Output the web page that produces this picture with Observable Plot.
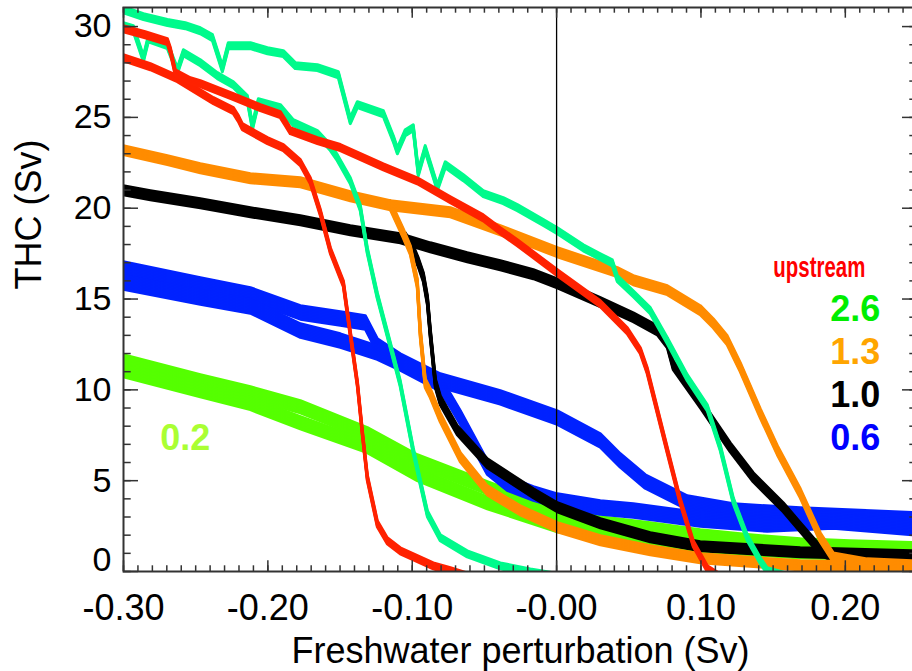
<!DOCTYPE html>
<html>
<head>
<meta charset="utf-8">
<script src="https://cdn.jsdelivr.net/npm/d3@7"></script>
<script src="https://cdn.jsdelivr.net/npm/@observablehq/plot@0.6"></script>
<style>
  html, body { margin: 0; padding: 0; background: white; overflow: hidden; }
  #chart svg { display: block; }
</style>
</head>
<body>
<div id="chart"></div>
<script>
// ---------- axis ticks / labels ----------
const xMajor = [-0.3, -0.2, -0.1, 0, 0.1, 0.2];
const xTickLabels = ["-0.30", "-0.20", "-0.10", "-0.00", "0.10", "0.20"];
const xMinor = d3.range(-30, 26).map(i => i / 100);
const yMajor = [0, 5, 10, 15, 20, 25, 30];
const yTickLabels = ["0", "5", "10", "15", "20", "25", "30"];
const yMinor = d3.range(0, 31);

// ---------- series (freshwater perturbation in Sv, THC in Sv) ----------
// upstream (red), two runs
const fwRedA  = [-0.3002,-0.2850,-0.2696,-0.2675,-0.2641,-0.2537,-0.2468,-0.2239,-0.2052,-0.1914,-0.1879,-0.1845,-0.1657,-0.1498,-0.1200,-0.0965,-0.0736,-0.0508,-0.0390,-0.0272,0.0005,0.0303,0.0490,0.0580,0.0628,0.0767,0.0856,0.0947,0.1044,0.1134];
const thcRedA = [29.88,29.55,29.17,28.67,27.46,27.02,26.86,26.14,25.54,25.15,24.71,24.27,23.72,23.34,22.28,21.51,20.47,19.47,18.76,18.10,16.45,14.74,13.25,12.15,11.05,6.65,3.89,1.53,0.15,-0.3];
const fwRedB  = [-0.3002,-0.2814,-0.2627,-0.2377,-0.2239,-0.2204,-0.2177,-0.2003,-0.1893,-0.1775,-0.1706,-0.1636,-0.1567,-0.1477,-0.1429,-0.1380,-0.1345,-0.1311,-0.1242,-0.1173,-0.1083,-0.0854,-0.0736,-0.0598];
const thcRedB = [28.29,27.79,27.13,25.92,25.37,24.93,24.49,23.72,23.34,22.51,21.51,19.75,17.66,15.84,13.09,10.34,7.59,5.16,2.63,1.69,1.14,0.31,0.04,-0.3];

// 2.6 (spring green)
const fwG26a  = [-0.3002,-0.2862,-0.2696,-0.2572,-0.2468,-0.2384,-0.2315,-0.2274,-0.2121,-0.2003,-0.1893,-0.1810,-0.1657,-0.1512,-0.1429,-0.1380,-0.1200,-0.1131,-0.1103,-0.1048,-0.0993,-0.0958,-0.0910,-0.0826,-0.0771,-0.0646,-0.0508,-0.0370,-0.0272,-0.0092,0.0005,0.0185,0.0303,0.0386,0.0421,0.0531,0.0649,0.0767,0.0905,0.1044,0.1134,0.1224,0.1321,0.1411,0.1459,0.1617];
const thcG26a = [30.93,30.55,30.22,30.05,29.77,29.39,27.68,28.95,28.95,28.67,28.51,27.85,27.74,27.35,24.82,25.70,25.20,23.82,23.16,24.16,24.43,21.95,23.28,21.13,22.39,21.68,20.80,20.42,20.03,19.21,18.76,17.82,17.33,16.99,16.12,15.29,14.36,12.70,10.67,9.01,6.81,3.89,1.86,0.59,0.04,-0.3];
const fwG26b  = [-0.3002,-0.2932,-0.2862,-0.2828,-0.2696,-0.2627,-0.2585,-0.2468,-0.2350,-0.2239,-0.2142,-0.2107,-0.2066,-0.1914,-0.1824,-0.1657,-0.1567,-0.1519,-0.1429,-0.1360,-0.1311,-0.1242,-0.1173,-0.1083,-0.0993,-0.0895,-0.0806,-0.0619,-0.0390,-0.0182,0.0025];
const thcG26b = [30.05,29.88,28.23,29.33,28.95,27.57,28.56,28.01,27.30,26.80,26.03,24.49,25.86,25.54,24.71,24.11,23.34,22.78,21.51,20.03,17.66,15.19,13.09,10.34,6.65,3.18,1.86,0.97,0.31,-0.02,-0.3];

// 1.3 (orange)
const fwO13a  = [-0.3002,-0.2696,-0.2468,-0.2121,-0.1775,-0.1429,-0.1152,-0.0736,-0.0390,0.0005,0.0421,0.0531,0.0767,0.0995,0.1085,0.1182,0.1272,0.1411,0.1529,0.1688,0.1826,0.1916,0.2151,0.2464,0.2519];
const thcO13a = [23.17,22.62,22.17,21.62,21.40,20.63,20.14,19.75,18.76,17.55,16.45,16.01,15.46,14.36,13.64,12.70,11.22,8.68,6.65,4.28,1.86,0.75,0.42,0.31,0.26];
const fwO13b  = [-0.1152,-0.1062,-0.1013,-0.0965,-0.0944,-0.0910,-0.0875,-0.0806,-0.0667,-0.0480,-0.0252,0.0005,0.0303,0.0649,0.0995,0.1688,0.2519];
const thcO13b = [20.14,18.59,17.66,15.84,13.09,10.34,9.79,8.46,6.26,4.44,3.34,2.41,1.69,1.14,0.70,0.31,0.20];

// 1.0 (black)
const fwK10a  = [-0.3002,-0.2814,-0.2468,-0.2121,-0.1775,-0.1429,-0.1083,-0.0875,-0.0619,-0.0390,-0.0161,0.0005,0.0303,0.0531,0.0698,0.0767,0.0808,0.0995,0.1203,0.1362,0.1570,0.1688,0.1826,0.1930,0.2173,0.2519];
const thcK10a = [20.96,20.69,20.25,19.75,19.31,18.76,18.32,17.82,17.27,16.83,16.34,15.84,14.80,13.97,13.25,12.54,11.33,9.24,6.81,5.16,3.51,2.41,1.14,0.70,0.64,0.70];
const fwK10b  = [-0.1048,-0.0993,-0.0958,-0.0923,-0.0895,-0.0875,-0.0840,-0.0806,-0.0688,-0.0480,-0.0161,0.0005,0.0303,0.0649,0.0995,0.1688,0.2519];
const thcK10b = [18.37,17.66,16.99,16.17,14.91,13.09,10.34,9.40,7.75,5.93,4.28,3.51,2.63,1.86,1.36,1.03,0.86];

// 0.6 (blue)
const fwB06a  = [-0.3002,-0.2468,-0.2121,-0.1775,-0.1498,-0.1325,-0.1242,-0.1083,-0.0806,-0.0390,0.0005,0.0303,0.0441,0.0614,0.0905,0.1224,0.1688,0.2519];
const thcB06a = [16.67,15.79,15.24,14.25,13.92,13.70,12.43,11.60,10.50,9.57,8.46,7.20,6.10,4.94,3.78,3.34,3.12,2.85];
const fwB06b  = [-0.3002,-0.2468,-0.2121,-0.1775,-0.1498,-0.1242,-0.1083,-0.0806,-0.0736,-0.0667,-0.0480,-0.0342,-0.0161,0.0005,0.0303,0.0531,0.0995,0.1459,0.1916,0.2519];
const thcB06b = [15.90,15.07,14.58,13.25,12.70,12.04,11.44,10.28,9.40,8.46,5.71,4.83,4.28,3.89,3.51,3.34,2.85,2.57,2.74,2.35];

// 0.2 (lime)
const fwL02a  = [-0.3002,-0.2468,-0.2121,-0.1775,-0.1311,-0.0965,-0.0480,0.0005,0.0303,0.0649,0.0995,0.1341,0.1688,0.2033,0.2519];
const thcL02a = [11.60,10.50,9.84,9.07,7.59,6.10,4.61,3.18,2.68,2.35,1.97,1.69,1.47,1.36,1.25];
const fwL02b  = [-0.3002,-0.2468,-0.2121,-0.1775,-0.1311,-0.0965,-0.0480,0.0005,0.0303,0.0649,0.0995,0.1341,0.1688,0.2033,0.2519];
const thcL02b = [11.05,9.95,9.24,8.19,6.87,5.33,3.78,2.52,2.08,1.69,1.42,1.25,1.08,1.03,0.97];

// legend
const legendLabels = ["2.6", "1.3", "1.0", "0.6"];
const legendColors = ["#00ee00", "#ffa500", "#000000", "#0000ff"];

// ---------- drawing ----------
function band(xs, ys, color, half, sw) {
  const data = xs.map((x, i) => ({x, y: ys[i]}));
  const marks = [];
  for (let d = -half; d <= half + 1e-9; d += 1.5) {
    marks.push(Plot.line(data, {x: "x", y: "y", stroke: color, strokeWidth: sw, dy: d, clip: true}));
  }
  return marks;
}

const W = 912, H = 671;
const frameW = 917 - 123, frameH = 571 - 7;
const axisColor = "#333";

const chart = Plot.plot({
  width: W,
  height: H,
  marginLeft: 123,
  marginRight: -5,
  marginTop: 7,
  marginBottom: 100,
  style: {fontFamily: "'Liberation Sans', Arial, Helvetica, sans-serif", background: "white", overflow: "hidden"},
  x: {domain: [-0.30, 0.25], axis: null},
  y: {domain: [0, 31.05], axis: null},
  marks: [
    ...band(fwL02a, thcL02a, "#55ff00", 6, 3),
    ...band(fwL02b, thcL02b, "#55ff00", 6, 3),
    ...band(fwB06a, thcB06a, "#0022ff", 7, 3),
    ...band(fwB06b, thcB06b, "#0022ff", 7, 3),
    ...band(fwK10b, thcK10b, "#000000", 5, 3),
    ...band(fwK10a, thcK10a, "#000000", 5, 3),
    ...band(fwO13b, thcO13b, "#ff8c00", 5, 3),
    ...band(fwO13a, thcO13a, "#ff8c00", 5, 3),
    ...band(fwG26b, thcG26b, "#00fa8c", 3, 3),
    ...band(fwG26a, thcG26a, "#00fa8c", 3, 3),
    ...band(fwRedB, thcRedB, "#ff2200", 3, 3),
    ...band(fwRedA, thcRedA, "#ff2200", 3, 3),
    Plot.ruleX([0], {stroke: "black", strokeWidth: 1.3}),
    // ticks (inward)
    Plot.tickX(xMinor, {x: d => d, stroke: axisColor, strokeWidth: 1.5, insetTop: frameH - 5.7}),
    Plot.tickX(xMajor, {x: d => d, stroke: axisColor, strokeWidth: 1.5, insetTop: frameH - 10.7}),
    Plot.tickX(xMinor, {x: d => d, stroke: axisColor, strokeWidth: 1.5, insetBottom: frameH - 5.7}),
    Plot.tickX(xMajor, {x: d => d, stroke: axisColor, strokeWidth: 1.5, insetBottom: frameH - 10.7}),
    Plot.tickY(yMinor, {y: d => d, stroke: axisColor, strokeWidth: 1.5, insetRight: frameW - 7.7}),
    Plot.tickY(yMajor, {y: d => d, stroke: axisColor, strokeWidth: 1.5, insetRight: frameW - 15}),
    Plot.tickY(yMinor, {y: d => d, stroke: axisColor, strokeWidth: 1.5, insetLeft: frameW - 7.7}),
    Plot.tickY(yMajor, {y: d => d, stroke: axisColor, strokeWidth: 1.5, insetLeft: frameW - 15}),
    Plot.frame({stroke: axisColor, strokeWidth: 2}),
    // tick labels
    Plot.text(xMajor, {x: d => d, text: (d, i) => xTickLabels[i], frameAnchor: "bottom", lineAnchor: "bottom", dy: 48, fontSize: 36, fill: "black"}),
    Plot.text(yMajor.slice(1), {y: d => d, text: (d, i) => yTickLabels[i + 1], frameAnchor: "left", textAnchor: "end", dx: -12, fontSize: 34, fill: "black"}),
    Plot.text(yMajor.slice(0, 1), {y: d => d, text: (d, i) => yTickLabels[i], frameAnchor: "left", textAnchor: "end", dx: -12, dy: -11, fontSize: 34, fill: "black"}),
    // axis titles
    Plot.text(["Freshwater perturbation (Sv)"], {frameAnchor: "bottom", lineAnchor: "bottom", dy: 91, fontSize: 36, fill: "black"}),
    Plot.text(["THC (Sv)"], {frameAnchor: "left", lineAnchor: "bottom", rotate: -90, dx: -83, fontSize: 36, fill: "black"}),
    // legend
    Plot.text(["upstream"], {x: 0.1819, y: 16.23, textAnchor: "middle", lineAnchor: "bottom", fontSize: 29, fontWeight: "bold", fill: "#ff0000"}),
    Plot.text(legendLabels, {x: 0.2242, y: (d, i) => 13.80 - i * 2.37, text: d => d, fill: (d, i) => legendColors[i], textAnchor: "end", lineAnchor: "bottom", fontSize: 36, fontWeight: "bold"}),
    Plot.text(["0.2"], {x: -0.2745, y: 6.70, textAnchor: "start", lineAnchor: "bottom", fontSize: 36, fontWeight: "bold", fill: "#aaff33"})
  ]
});

chart.style.maxWidth = "none";
document.getElementById("chart").appendChild(chart);

// condense the "upstream" label horizontally about its centre (the reference uses a condensed face)
d3.select(chart).selectAll("text").filter(function() { return this.textContent === "upstream"; })
  .each(function() {
    const svgBox = chart.getBoundingClientRect();
    const r = this.getBoundingClientRect();
    const cx = r.left + r.width / 2 - svgBox.left;
    const s = 92 / r.width;
    const wrap = document.createElementNS("http://www.w3.org/2000/svg", "g");
    this.parentNode.insertBefore(wrap, this);
    wrap.appendChild(this);
    wrap.setAttribute("transform", `translate(${cx},0) scale(${s},1) translate(${-cx},0)`);
  });
</script>
</body>
</html>
